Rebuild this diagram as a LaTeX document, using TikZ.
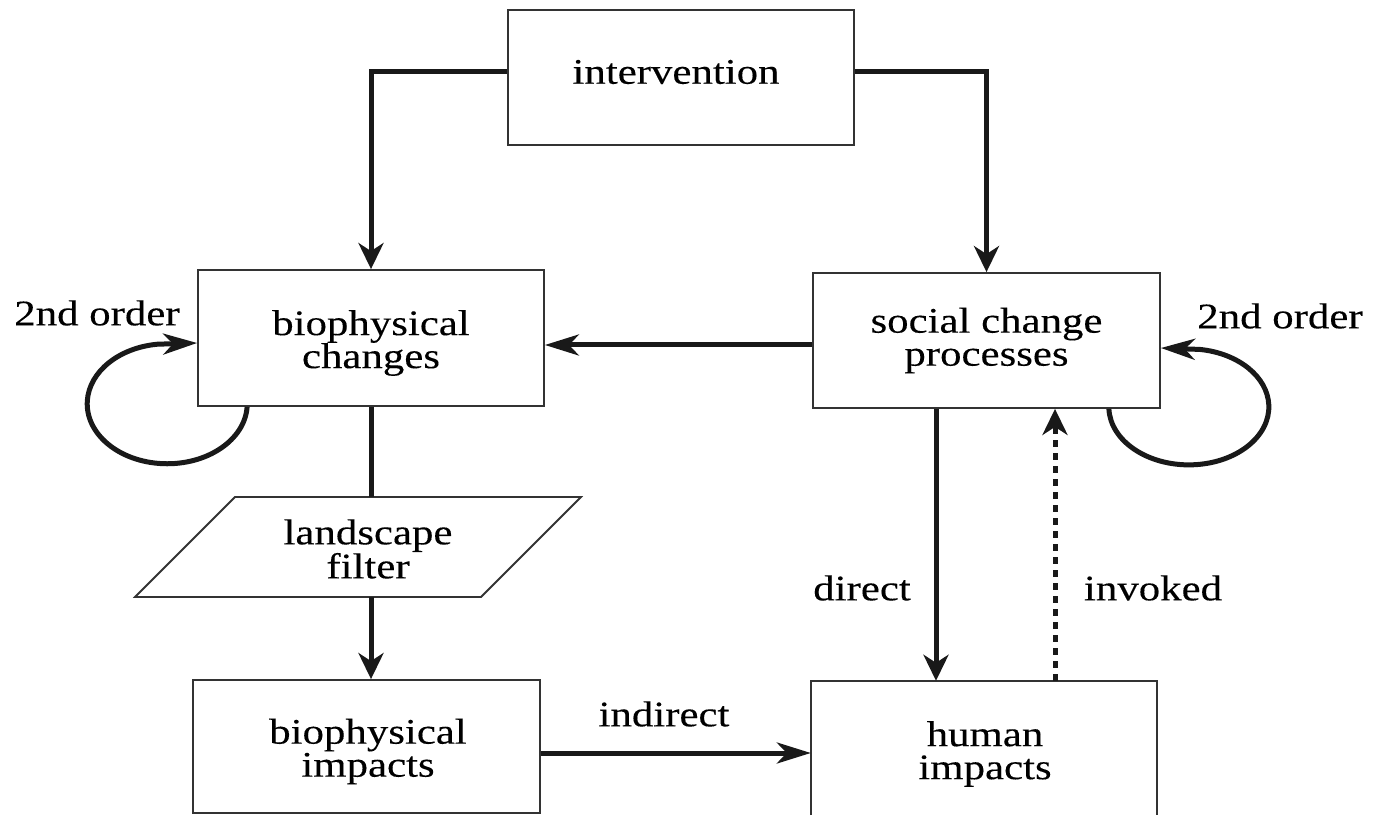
\documentclass[tikz,border=0pt]{standalone}
\usepackage{fontspec}
\setmainfont{Liberation Serif}[FakeStretch=1.19,FakeBold=0.2]
\usetikzlibrary{arrows.meta}

\begin{document}
\begin{tikzpicture}[x=1pt,y=1pt,
  txt/.style={font=\fontsize{36}{33}\selectfont, text=black, inner sep=0pt, align=center},
  box/.style={draw=black!80, line width=1.8pt, fill=white, minimum width=346pt, inner sep=0pt},
  boxline/.style={draw=black!80, line width=1.8pt},
  link/.style={line width=5pt, draw=black!90},
  harr/.style={link, -{Stealth[length=34pt,width=21pt,inset=10pt]}},
  varr/.style={link, -{Stealth[length=26pt,width=25pt,inset=8pt]}},
]
\fill[white] (0,0) rectangle (1374,815);
\useasboundingbox (0,0) rectangle (1374,815);

% boxes
\node[box, minimum height=135pt] (iv) at (681,737.5) {};
\node[box, minimum height=136pt] (bc) at (371,477) {};
\node[box, minimum width=347pt, minimum height=135pt] (sc) at (986.5,474.5) {};
\node[box, minimum width=347pt, minimum height=133pt] (bi) at (366.5,68.5) {};
\node[minimum width=346pt, minimum height=128pt, inner sep=0pt] (hi) at (984,70) {};
\draw[boxline] (hi.west |- 0,0) |- (hi.north east) -- (hi.east |- 0,0);

% box texts
\node[txt] (ivt) at (676,743) {intervention};
\node[txt] (bct) at (371,472) {biophysical\\changes};
\node[txt] (sct) at (986.5,474.5) {social change\\processes};
\node[txt] (bit) at (368,63.5) {biophysical\\impacts};
\node[txt] (hit) at (985,61) {human\\impacts};

% landscape filter (parallelogram)
\coordinate (pBL) at (135,218);
\coordinate (pTL) at (235,318);
\coordinate (pTR) at (581,318);
\coordinate (pBR) at (481,218);
\draw[boxline, fill=white] (pBL) -- (pTL) -- (pTR) -- (pBR) -- cycle;
\node[txt] (lf) at (368,266) {landscape\\filter};

% connectors
\draw[varr] ([yshift=5.5pt]iv.west) -| (bc.north);
\draw[varr] ([yshift=5.5pt]iv.east) -| (sc.north);
\draw[harr] (sc.west |- 0,470) -- (bc.east |- 0,470);
\draw[link] (bc.south) -- (bc.south |- pTL);
\draw[varr] (bc.south |- pBL) -- (bc.south |- bi.north);
\draw[harr] (bi.east |- 0,62) -- (hi.west |- 0,62);
\draw[varr] (sc.south -| 936,0) -- (hi.north -| 936,0);
\draw[varr, dash pattern=on 7pt off 6pt] (hi.north -| 1055,0) -- (sc.south -| 1055,0);

% second-order feedback loops
\draw[harr] ([xshift=50pt]bc.south west)
  arc[start angle=-3, end angle=-263, x radius=80, y radius=60]
  -- (bc.west |- 0,472);
\draw[harr] ([xshift=-52pt]sc.south east)
  arc[start angle=182, end angle=442, x radius=80, y radius=58]
  -- (sc.east |- 0,467);

% labels
\node[txt] (lo1) at (97,502) {2nd order};
\node[txt] (lo2) at (1280,499) {2nd order};
\node[txt] (ld) at (862,227) {direct};
\node[txt] (li) at (1153,227) {invoked};
\node[txt] (lid) at (664,101) {indirect};
\end{tikzpicture}
\end{document}
